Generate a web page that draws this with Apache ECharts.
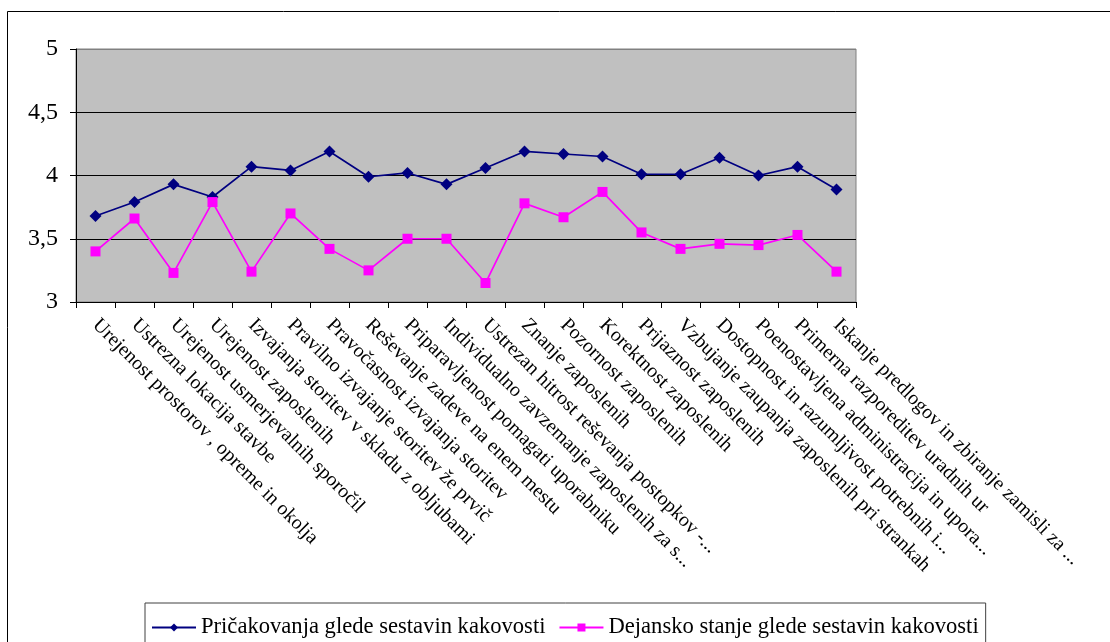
<!DOCTYPE html>
<html>
<head>
<meta charset="utf-8">
<script src="https://cdn.jsdelivr.net/npm/echarts@6/dist/echarts.min.js"></script>
<style>
  html, body { margin: 0; padding: 0; background: #fff; }
  #chart { width: 1110px; height: 642px; }
</style>
</head>
<body>
<div id="chart"></div>
<script>
// Quality components of the service
const categories = [
  'Urejenost prostorov , opreme in okolja',
  'Ustrezna lokacija stavbe',
  'Urejenost usmerjevalnih sporočil',
  'Urejenost zaposlenih',
  'Izvajanja storitev v skladu z obljubami',
  'Pravilno izvajanje storitev že prvič',
  'Pravočasnost izvajanja storitev',
  'Reševanje zadeve na enem mestu',
  'Priparavljenost pomagati uporabniku',
  'Individualno zavzemanje zaposlenih za s...',
  'Ustrezan hitrost reševanja postopkov -...',
  'Znanje zaposlenih',
  'Pozornost zaposlenih',
  'Korektnost zaposlenih',
  'Prijaznost zaposlenih',
  'Vzbujanje zaupanja zaposlenih pri strankah',
  'Dostopnost in razumljivost potrebnih i...',
  'Poenostavljena administracija in upora...',
  'Primerna razporeditev uradnih ur',
  'Iskanje predlogov in zbiranje zamisli za ...'
];

const expectedName = 'Pričakovanja glede sestavin kakovosti';
const expected = [3.68, 3.79, 3.93, 3.83, 4.07, 4.04, 4.19, 3.99, 4.02, 3.93,
                  4.06, 4.19, 4.17, 4.15, 4.01, 4.01, 4.14, 4.00, 4.07, 3.89];

const actualName = 'Dejansko stanje glede sestavin kakovosti';
const actual = [3.40, 3.66, 3.23, 3.79, 3.24, 3.70, 3.42, 3.25, 3.50, 3.50,
                3.15, 3.78, 3.67, 3.87, 3.55, 3.42, 3.46, 3.45, 3.53, 3.24];

const yTicks = [3, 3.5, 4, 4.5, 5];

const chart = echarts.init(document.getElementById('chart'), null, { renderer: 'canvas' });

const serif = '"Liberation Serif", "Times New Roman", serif';

chart.setOption({
  animation: false,
  backgroundColor: '#ffffff',
  textStyle: { fontFamily: serif },
  graphic: [{
    // outer frame of the chart area
    type: 'rect',
    silent: true,
    z: -10,
    shape: { x: 7.5, y: 11.5, width: 1200, height: 700 },
    style: { fill: 'none', stroke: '#000000', lineWidth: 1 }
  }],
  grid: {
    left: 76, top: 49, right: 254, bottom: 340,
    show: true,
    backgroundColor: '#C0C0C0',
    borderColor: '#808080',
    borderWidth: 1,
    containLabel: false
  },
  legend: {
    left: 145,
    top: 603,
    orient: 'horizontal',
    itemGap: 13,
    itemWidth: 44,
    itemHeight: 10,
    padding: [13, 7, 40, 6],
    borderColor: '#404040',
    borderWidth: 1,
    textStyle: { fontFamily: serif, fontSize: 22.6, color: '#000' },
    data: [expectedName, actualName]
  },
  xAxis: {
    type: 'category',
    data: categories,
    boundaryGap: true,
    axisLine: { show: true, lineStyle: { color: '#000', width: 1 } },
    axisTick: { show: true, length: 6, lineStyle: { color: '#000' } },
    axisLabel: {
      interval: 0,
      rotate: -45,
      margin: 20,
      fontFamily: serif,
      fontSize: 20,
      color: '#000'
    },
    splitLine: { show: false }
  },
  yAxis: {
    type: 'value',
    min: yTicks[0],
    max: yTicks[yTicks.length - 1],
    interval: 0.5,
    axisLine: { show: true, lineStyle: { color: '#000', width: 1 } },
    axisTick: { show: true, length: 6, lineStyle: { color: '#000' } },
    axisLabel: {
      margin: 18,
      fontFamily: serif,
      fontSize: 24,
      color: '#000',
      formatter: v => String(v).replace('.', ',')
    },
    splitLine: {
      show: true,
      lineStyle: { color: ['#000', '#000', '#000', '#000', '#808080'], width: 1 }
    }
  },
  series: [
    {
      name: expectedName,
      type: 'line',
      data: expected,
      symbol: 'diamond',
      symbolSize: 12,
      lineStyle: { color: '#000080', width: 1.7 },
      itemStyle: { color: '#000080' }
    },
    {
      name: actualName,
      type: 'line',
      data: actual,
      symbol: 'rect',
      symbolSize: 10,
      lineStyle: { color: '#FF00FF', width: 1.7 },
      itemStyle: { color: '#FF00FF' }
    }
  ]
});
</script>
</body>
</html>
